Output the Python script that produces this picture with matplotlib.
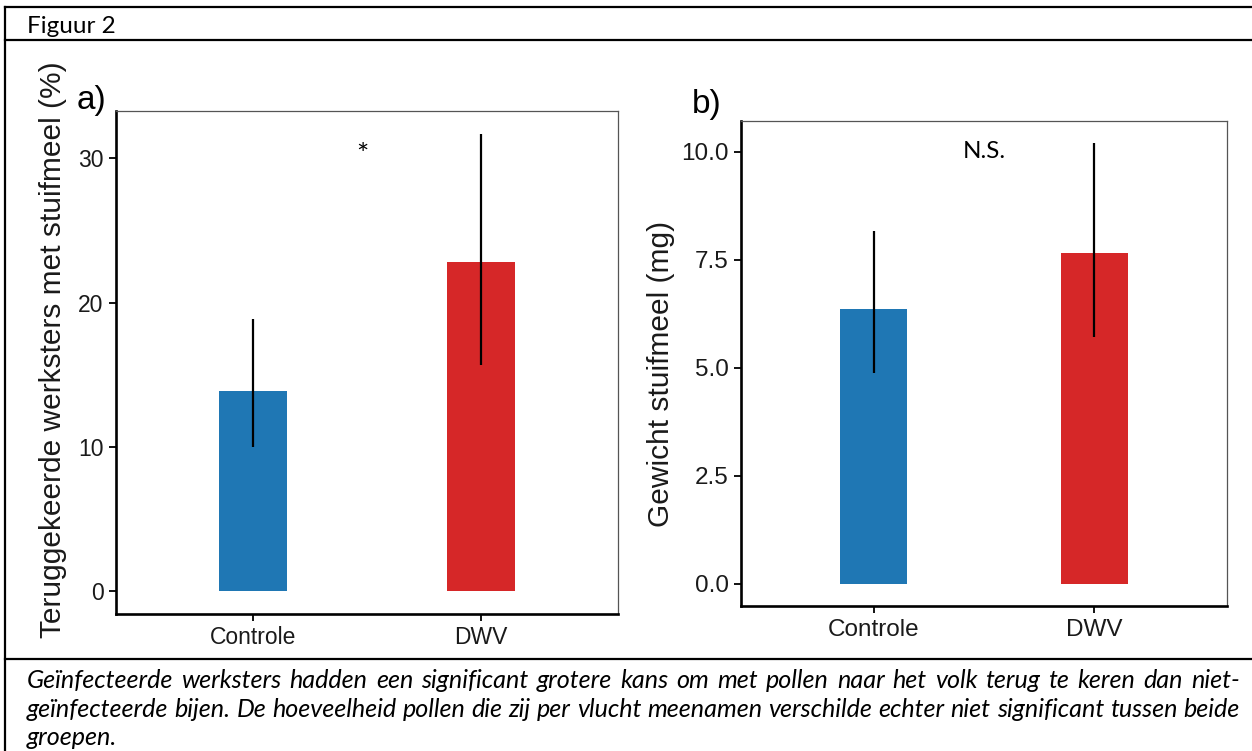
import matplotlib
matplotlib.use("Agg")
import matplotlib.pyplot as plt
from matplotlib.lines import Line2D

# ---------------- data ----------------
groups = ["Controle", "DWV"]
colors = ["#1f77b4", "#d62728"]

# panel a: returned workers with pollen (%)
a_mean = [13.86, 22.8]
a_low = [9.98, 15.7]
a_high = [18.9, 31.7]
a_ticks = [0, 10, 20, 30]

# panel b: pollen weight (mg)
b_mean = [6.35, 7.65]
b_low = [4.88, 5.72]
b_high = [8.16, 10.2]
b_ticks = [0.0, 2.5, 5.0, 7.5, 10.0]

title = "Figuur 2"
caption_lines = [
    "Geïnfecteerde werksters hadden een significant grotere kans om met pollen naar het volk terug te keren dan niet-",
    "geïnfecteerde bijen. De hoeveelheid pollen die zij per vlucht meenamen verschilde echter niet significant tussen beide",
    "groepen.",
]

W, H = 1252, 751
fig = plt.figure(figsize=(W / 100, H / 100), dpi=100)
fig.patch.set_facecolor("white")

def fx(px):
    return px / W

def fy(py):
    return 1 - py / H

def make_axes(l, t, r, b):
    return fig.add_axes([fx(l), fy(b), fx(r) - fx(l), fy(t) - fy(b)])

axA = make_axes(116, 111, 618, 614)
axB = make_axes(741, 121, 1227, 606)

AX_FONT = ["Liberation Sans", "DejaVu Sans"]
HUM_FONT = ["Lato", "DejaVu Sans"]

def style(ax, tick_size):
    for s in ["left", "bottom"]:
        ax.spines[s].set_color("black")
        ax.spines[s].set_linewidth(1.9)
    for s in ["top", "right"]:
        ax.spines[s].set_color("#555555")
        ax.spines[s].set_linewidth(0.9)
    ax.tick_params(axis="both", direction="out", length=5, width=1.3,
                   color="black", labelsize=tick_size, labelcolor="#1a1a1a", pad=4)
    for lab in ax.get_xticklabels() + ax.get_yticklabels():
        lab.set_fontfamily(AX_FONT)

x = [1, 2]
# panel a
axA.bar(x, a_mean, width=0.3, color=colors, edgecolor="none", zorder=2)
axA.vlines(x, a_low, a_high, color="black", linewidth=1.6, zorder=3)
axA.set_xlim(0.4, 2.6)
axA.set_ylim(-1.585, 33.285)
axA.set_yticks(a_ticks)
axA.set_yticklabels([str(t) for t in a_ticks])
axA.set_xticks(x)
axA.set_xticklabels(groups)
style(axA, 16.5)
axA.text(1.48, 30.2, "*", ha="center", va="center", fontsize=21, family=HUM_FONT)

# panel b
axB.bar(x, b_mean, width=0.3, color=colors, edgecolor="none", zorder=2)
axB.vlines(x, b_low, b_high, color="black", linewidth=1.6, zorder=3)
axB.set_xlim(0.4, 2.6)
axB.set_ylim(-0.51, 10.71)
axB.set_yticks(b_ticks)
axB.set_yticklabels([f"{t:.1f}" for t in b_ticks])
axB.set_xticks(x)
axB.set_xticklabels(groups)
style(axB, 17.5)
axB.text(1.5, 10.0, "N.S.", ha="center", va="center", fontsize=17.5, family=HUM_FONT)

# axis labels and panel letters
fig.text(fx(53), fy(350), "Teruggekeerde werksters met stuifmeel (%)", rotation=90,
         ha="center", va="center", fontsize=21.5, family=AX_FONT, color="#1a1a1a")
fig.text(fx(661), fy(374), "Gewicht stuifmeel (mg)", rotation=90,
         ha="center", va="center", fontsize=21.5, family=AX_FONT, color="#1a1a1a")
fig.text(fx(91), fy(100), "a)", ha="center", va="center", fontsize=24, family=AX_FONT)
fig.text(fx(707), fy(105), "b)", ha="center", va="center", fontsize=24, family=AX_FONT)

# frame lines
lw = 1.6
fig.add_artist(Line2D([fx(5), fx(W)], [fy(7), fy(7)], color="black", lw=lw))
fig.add_artist(Line2D([fx(5), fx(5)], [fy(7), fy(H)], color="black", lw=lw))
fig.add_artist(Line2D([fx(5), fx(W)], [fy(40), fy(40)], color="black", lw=lw))
fig.add_artist(Line2D([fx(5), fx(W)], [fy(659), fy(659)], color="black", lw=lw))

# title
fig.text(fx(27), fy(33), title, ha="left", va="baseline", fontsize=17.5,
         family=HUM_FONT)

# caption, justified; font size chosen so the first line fills the box naturally
fig.canvas.draw()
renderer = fig.canvas.get_renderer()
x0, x1 = 27, 1240
probe = fig.text(0, 0, caption_lines[0], fontsize=15, family=HUM_FONT, style="italic")
nat = probe.get_window_extent(renderer).width
probe.remove()
cap_size = 15 * (x1 - x0 - 35) / nat
cap_font = dict(fontsize=cap_size, family=HUM_FONT, style="italic", color="black")
baselines = [688, 717, 745]
for i, line in enumerate(caption_lines):
    justify = i < len(caption_lines) - 1
    if not justify:
        fig.text(fx(x0), fy(baselines[i]), line, ha="left", va="baseline", **cap_font)
        continue
    words = line.split(" ")
    texts = [fig.text(0, fy(baselines[i]), w, ha="left", va="baseline", **cap_font) for w in words]
    widths = [t.get_window_extent(renderer).width for t in texts]
    gap = (x1 - x0 - sum(widths)) / (len(words) - 1)
    pos = x0
    for t, wdt in zip(texts, widths):
        t.set_x(fx(pos))
        pos += wdt + gap

fig.savefig("out.png", dpi=100, facecolor="white")
